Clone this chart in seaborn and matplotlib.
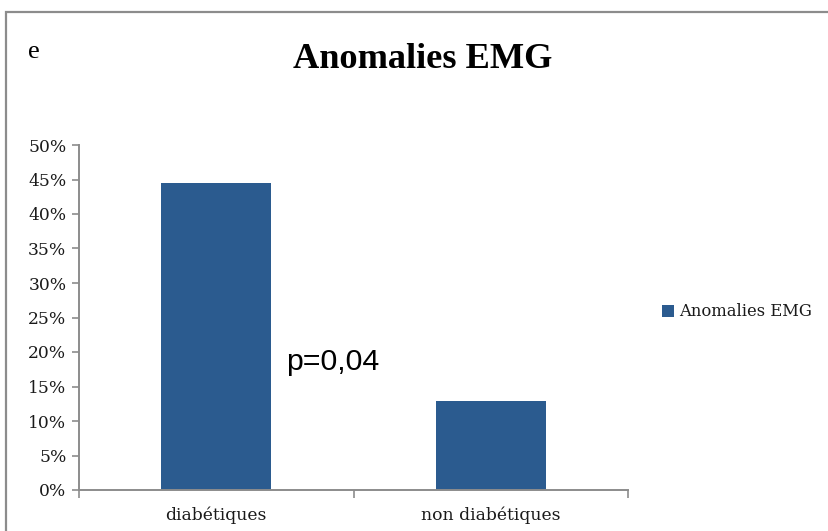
import matplotlib
matplotlib.use("Agg")
import matplotlib.pyplot as plt
from matplotlib.patches import Patch, Rectangle
from matplotlib.ticker import PercentFormatter, MultipleLocator
import seaborn as sns
import pandas as pd

# Data
categories = ["diabétiques", "non diabétiques"]
values = [0.445, 0.129]
series_name = "Anomalies EMG"
p_value_label = "p=0,04"
panel_letter = "e"

bar_color = "#2B5B8F"
axis_color = "#8C8C8C"
text_color = "#1A1A1A"

sns.set_theme(style="white")
plt.rcParams["font.family"] = ["DejaVu Serif"]
plt.rcParams["text.color"] = text_color

W, H = 829, 531
fig = plt.figure(figsize=(W / 100, H / 100), dpi=100)
fig.patch.set_facecolor("white")

# Chart area frame (open on the right and bottom)
frame = Rectangle((6, -20), W + 40, H + 20 - 12, transform=None,
                  fill=False, edgecolor=axis_color, linewidth=1.6)
fig.add_artist(frame)

ax = fig.add_axes([79 / W, 41 / H, (628 - 79) / W, (490 - 145) / H])

df = pd.DataFrame({"groupe": categories, "valeur": values})
sns.barplot(data=df, x="groupe", y="valeur", color=bar_color, width=0.4,
            saturation=1, linewidth=0, ax=ax)

ax.set_ylim(0, 0.50)
ax.set_xlim(-0.5, 1.5)
ax.yaxis.set_major_locator(MultipleLocator(0.05))
ax.yaxis.set_major_formatter(PercentFormatter(1.0, decimals=0))
ax.set_xlabel("")
ax.set_ylabel("")

# Category ticks sit between the groups; labels centred under the bars
ax.set_xticks([-0.5, 0.5, 1.5])
ax.set_xticklabels([])
ax.set_xticks([0, 1], minor=True)
ax.set_xticklabels(categories, minor=True)
ax.tick_params(axis="x", which="major", length=6, width=1.2, color=axis_color,
               direction="out", bottom=True)
ax.tick_params(axis="x", which="minor", length=0, pad=12, labelsize=12.3,
               labelcolor=text_color)
ax.tick_params(axis="y", length=5, width=1.2, color=axis_color, direction="out",
               left=True, pad=4, labelsize=12.3, labelcolor=text_color)

for side in ["top", "right"]:
    ax.spines[side].set_visible(False)
for side in ["left", "bottom"]:
    ax.spines[side].set_color(axis_color)
    ax.spines[side].set_linewidth(1.4)

# Title and panel letter
fig.text(423 / W, 1 - 68 / H, series_name, ha="center", va="baseline",
         fontsize=26.2, fontweight="bold", family=["Liberation Serif"],
         color="black")
fig.text(28 / W, 1 - 58 / H, panel_letter, ha="left", va="baseline",
         fontsize=19, family=["Liberation Serif"], color="black")

# p-value annotation
fig.text(286 / W, 1 - 370 / H, p_value_label, ha="left", va="baseline",
         fontsize=21.8, family=["Liberation Sans"], color="black")

# Legend
handle = Patch(facecolor=bar_color, edgecolor="none", label=series_name)
fig.legend(handles=[handle], loc="center left",
           bbox_to_anchor=(662 / W, 1 - 312 / H), bbox_transform=fig.transFigure,
           frameon=False, borderpad=0, borderaxespad=0, handlelength=0.72,
           handleheight=0.72, handletextpad=0.3, fontsize=11.8,
           labelcolor=text_color)

fig.savefig("out.png", dpi=100, facecolor="white")
